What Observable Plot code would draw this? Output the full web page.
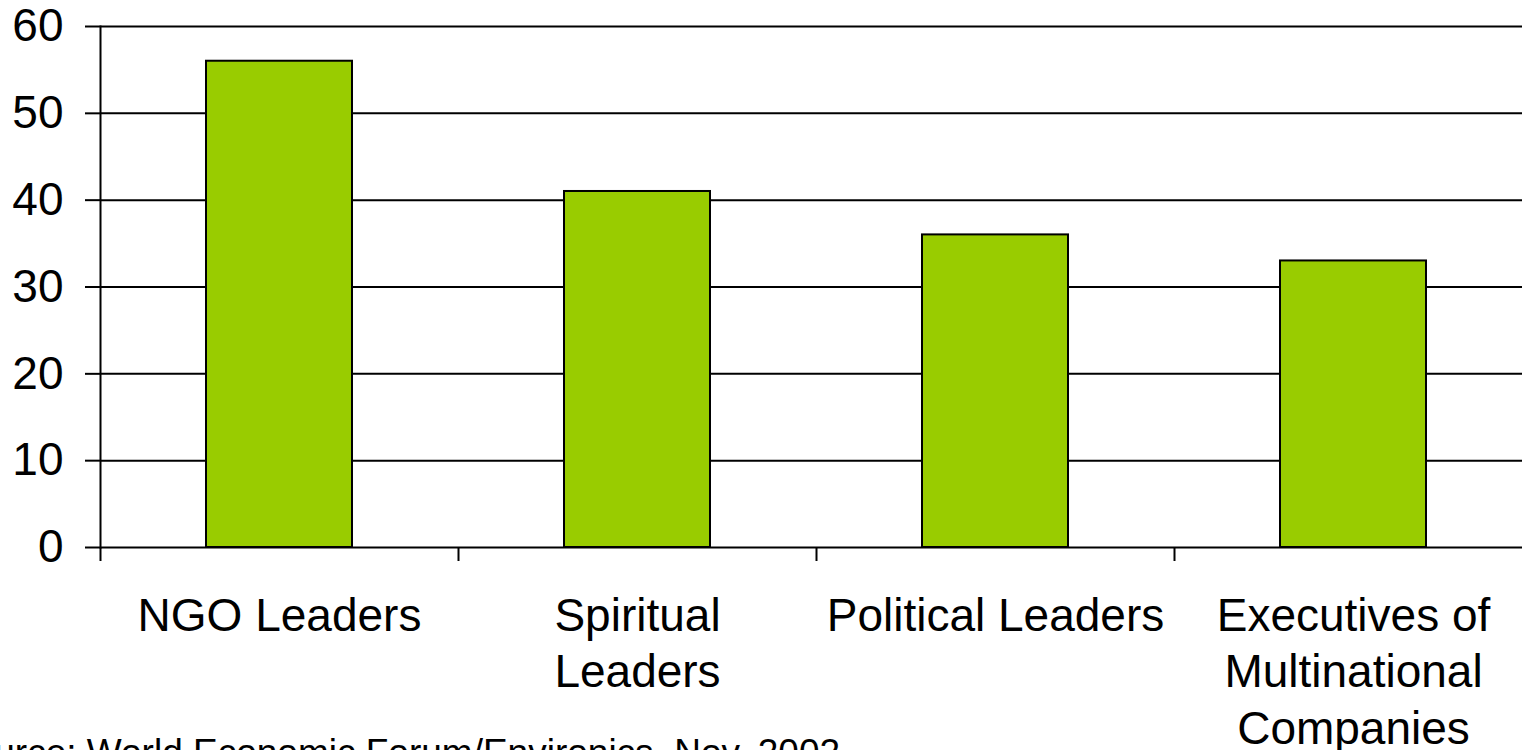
<!DOCTYPE html>
<html>
<head>
<meta charset="utf-8">
<script src="https://cdn.jsdelivr.net/npm/d3@7"></script>
<script src="https://cdn.jsdelivr.net/npm/@observablehq/plot@0.6"></script>
<style>
  html, body { margin: 0; padding: 0; background: #fff; overflow: hidden; }
  #wrap { position: relative; width: 1522px; height: 750px; overflow: hidden; }
  #caption {
    position: absolute; left: -51px; top: 734px; white-space: nowrap;
    font-family: "Liberation Sans", Arial, sans-serif; font-size: 37px; line-height: 37px; color: #000;
  }
</style>
</head>
<body>
<div id="wrap">
  <div id="chart"></div>
  <div id="caption">Source: World Economic Forum/Environics, Nov. 2002</div>
</div>
<script>
const categories = ["NGO Leaders", "Spiritual Leaders", "Political Leaders", "Executives of Multinational Companies"];
const tickLabels = ["NGO Leaders", "Spiritual\nLeaders", "Political Leaders", "Executives of\nMultinational\nCompanies"];
const values = [56, 41, 36, 33];
const yTicks = [0, 10, 20, 30, 40, 50, 60];

const data = categories.map((c, i) => ({category: c, value: values[i]}));
const labelOf = new Map(categories.map((c, i) => [c, tickLabels[i]]));

const W = 1522, H = 750, ML = 100;
const xRange = [100, 1532];
const step = (xRange[1] - xRange[0]) / categories.length;

const chart = Plot.plot({
  width: W,
  height: H,
  marginLeft: ML,
  marginRight: 0,
  marginTop: 26,
  marginBottom: 203,
  style: {fontFamily: "'Liberation Sans', Arial, sans-serif", fontSize: "46px", color: "#000", background: "#fff", overflow: "visible"},
  x: {type: "band", domain: categories, range: xRange, padding: 0},
  y: {domain: [0, 60]},
  marks: [
    Plot.gridY(yTicks, {stroke: "#000", strokeOpacity: 1, strokeWidth: 2}),
    Plot.barY(data, {x: "category", y: "value", fill: "#99CC00", stroke: "#000", strokeWidth: 2, insetLeft: 106, insetRight: 106}),
    Plot.frame({anchor: "left", stroke: "#000", strokeWidth: 2}),
    Plot.axisY({ticks: yTicks, tickSize: 15, tickPadding: 22, fontSize: 46, stroke: "#000", strokeWidth: 2, label: null}),
    Plot.axisX({tickSize: 14, tickFormat: () => "", dx: -step / 2, stroke: "#000", strokeWidth: 2, label: null}),
    Plot.axisX({tickSize: 0, tickPadding: 44, fontSize: 46, lineHeight: 1.22, tickFormat: d => labelOf.get(d), label: null})
  ]
});
document.getElementById("chart").appendChild(chart);
</script>
</body>
</html>
